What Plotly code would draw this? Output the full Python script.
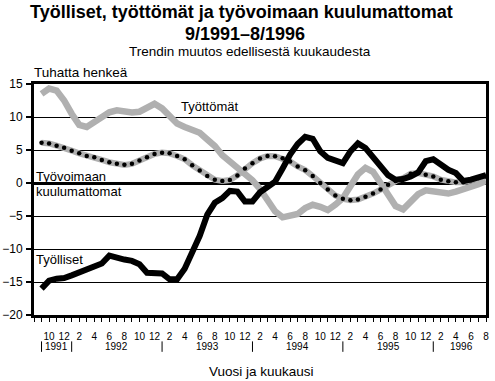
import plotly.graph_objects as go

# ---- data (thousand persons, change of trend from previous month) ----
months = ["1991-09", "1991-10", "1991-11", "1991-12",
          "1992-01", "1992-02", "1992-03", "1992-04", "1992-05", "1992-06",
          "1992-07", "1992-08", "1992-09", "1992-10", "1992-11", "1992-12",
          "1993-01", "1993-02", "1993-03", "1993-04", "1993-05", "1993-06",
          "1993-07", "1993-08", "1993-09", "1993-10", "1993-11", "1993-12",
          "1994-01", "1994-02", "1994-03", "1994-04", "1994-05", "1994-06",
          "1994-07", "1994-08", "1994-09", "1994-10", "1994-11", "1994-12",
          "1995-01", "1995-02", "1995-03", "1995-04", "1995-05", "1995-06",
          "1995-07", "1995-08", "1995-09", "1995-10", "1995-11", "1995-12",
          "1996-01", "1996-02", "1996-03", "1996-04", "1996-05", "1996-06",
          "1996-07", "1996-08"]

tyolliset = [-16.0, -14.8, -14.5, -14.4, -14.0, -13.6, -13.1, -12.7, -12.2, -11.0,
             -11.4, -11.6, -11.8, -12.3, -13.6, -13.6, -13.7, -14.6, -14.6, -13.0,
             -10.5, -8.0, -4.8, -3.0, -2.3, -1.2, -1.3, -2.8, -2.8, -1.4,
             -0.6, 0.2, 2.2, 4.3, 5.9, 7.0, 6.7, 4.8, 3.8, 3.3,
             3.0, 4.8, 6.0, 5.3, 4.0, 2.5, 1.2, 0.5, 0.6, 1.0,
             1.6, 3.3, 3.6, 2.8, 2.0, 1.5, 0.3, 0.5, 0.8, 1.2]

tyottomat = [13.5, 14.3, 14.0, 12.5, 10.5, 8.8, 8.5, 9.3, 10.0, 10.7,
             11.0, 10.8, 10.7, 10.8, 11.5, 12.0, 11.3, 10.0, 9.0, 8.5,
             8.1, 7.6, 6.6, 5.6, 4.2, 3.3, 2.5, 1.4, 0.4, -0.9,
             -2.8, -4.3, -5.2, -5.0, -4.7, -3.8, -3.3, -3.6, -4.1, -3.3,
             -2.3, -0.5, 1.3, 2.3, 1.7, 0.0, -1.8, -3.5, -4.0, -3.0,
             -1.7, -1.1, -1.2, -1.4, -1.6, -1.3, -1.0, -0.6, -0.2, 0.3]

kuulumattomat = [6.1, 6.0, 5.65, 5.35, 4.9, 4.5, 4.1, 3.9, 3.5, 3.15,
                 2.9, 2.75, 2.9, 3.4, 3.9, 4.4, 4.6, 4.5, 4.1, 3.6,
                 2.7, 1.9, 1.05, 0.5, 0.3, 0.45, 1.15, 2.2, 3.0, 3.7,
                 4.1, 4.05, 3.75, 3.25, 2.5, 1.95, 1.05, 0.0, -1.0, -1.9,
                 -2.4, -2.6, -2.5, -2.1, -1.6, -1.0, -0.25, 0.3, 0.75, 1.4,
                 1.5, 1.25, 1.0, 0.5, 0.25, 0.1, 0.1, 0.4, 0.75, 1.0]

years = ["1991", "1992", "1993", "1994", "1995", "1996"]
y_ticks = [-20, -15, -10, -5, 0, 5, 10, 15]

# ---- derived positions ----
xpos = list(range(len(months)))
tick_pos = list(range(-1, len(months)))
tick_txt = []
for p in tick_pos:
    if p < 0:
        tick_txt.append("")
    else:
        m = int(months[p][5:])
        tick_txt.append(str(m) if m % 2 == 0 else "")

W, H = 495, 381
ML, MR, MT, MB = 34, 8.5, 83.5, 65.5
PW, PH = W - ML - MR, H - MT - MB
FONT = "Liberation Sans, Arial, Helvetica, sans-serif"
GRAY = "#b0b0b0"


def px(x):
    return (x - ML) / PW


def py(y):
    return (H - MB - y) / PH


fig = go.Figure()
fig.add_trace(go.Scatter(x=xpos, y=tyottomat, mode="lines",
                         line=dict(color=GRAY, width=6.5),
                         name="Työttömät", hoverinfo="skip"))
fig.add_trace(go.Scatter(x=xpos, y=kuulumattomat, mode="lines+markers",
                         line=dict(color=GRAY, width=6),
                         marker=dict(color="black", size=4.5, symbol="circle"),
                         name="Työvoimaan kuulumattomat", hoverinfo="skip"))
fig.add_trace(go.Scatter(x=xpos, y=tyolliset, mode="lines",
                         line=dict(color="black", width=6),
                         name="Työlliset", hoverinfo="skip"))

ann = []


def add_text(text, x, y, size, xanchor="center", xref="paper"):
    ann.append(dict(text=text, x=x, y=y, xref=xref, yref="paper",
                    xanchor=xanchor, yanchor="middle", showarrow=False,
                    font=dict(family=FONT, size=size, color="black")))


add_text("<b>Työlliset, työttömät ja työvoimaan kuulumattomat</b>", px(241.5), py(11), 18)
add_text("<b>9/1991–8/1996</b>", px(245), py(33), 18)
add_text("Trendin muutos edellisestä kuukaudesta", px(250.5), py(51), 13.5)
add_text("Tuhatta henkeä", px(32), py(71.5), 13.5, xanchor="left")
add_text("Vuosi ja kuukausi", px(261.5), py(372.5), 13.5)
add_text("Työttömät", px(179), py(106), 13, xanchor="left")
add_text("Työvoimaan", px(34), py(176), 13, xanchor="left")
add_text("kuulumattomat", px(34), py(191.5), 13, xanchor="left")
add_text("Työlliset", px(34), py(260), 13, xanchor="left")

year_centers = [2, 10, 22, 34, 46, 55.75]
for yr, c in zip(years, year_centers):
    ann.append(dict(text=yr, x=c, y=py(347.5), xref="x", yref="paper",
                    xanchor="center", yanchor="middle", showarrow=False,
                    font=dict(family=FONT, size=10, color="black")))

shapes = []
sep_idx = [0] + [i for i, m in enumerate(months) if m.endswith("-01")]
for s in sep_idx:
    shapes.append(dict(type="line", xref="x", yref="paper", x0=s, x1=s,
                       y0=py(342), y1=py(352.5), line=dict(color="black", width=1)))

fig.update_layout(
    width=W, height=H,
    margin=dict(l=ML, r=MR, t=MT, b=MB, pad=0, autoexpand=False),
    paper_bgcolor="white", plot_bgcolor="white",
    showlegend=False,
    annotations=ann, shapes=shapes,
    font=dict(family=FONT, color="black"),
)
fig.update_xaxes(range=[-1, len(months) - 1], tickvals=tick_pos, ticktext=tick_txt,
                 ticks="outside", ticklen=4, tickwidth=1, tickcolor="black",
                 tickfont=dict(family=FONT, size=10, color="black"),
                 showgrid=False, zeroline=False, automargin=False,
                 showline=True, linecolor="black", linewidth=3, mirror=True,
                 ticklabelstandoff=6)
fig.update_yaxes(range=[-20, 15], tickvals=y_ticks,
                 ticks="outside", ticklen=5, tickwidth=2, tickcolor="black",
                 tickfont=dict(family=FONT, size=12, color="black"),
                 showgrid=True, gridcolor="black", gridwidth=1,
                 zeroline=True, zerolinecolor="black", zerolinewidth=3,
                 showline=True, linecolor="black", linewidth=3, mirror=True,
                 automargin=False, ticklabelstandoff=1)

fig.write_html("out.html", config={"displayModeBar": False},
               post_script="document.body.style.margin='0';document.body.style.overflow='hidden';")
